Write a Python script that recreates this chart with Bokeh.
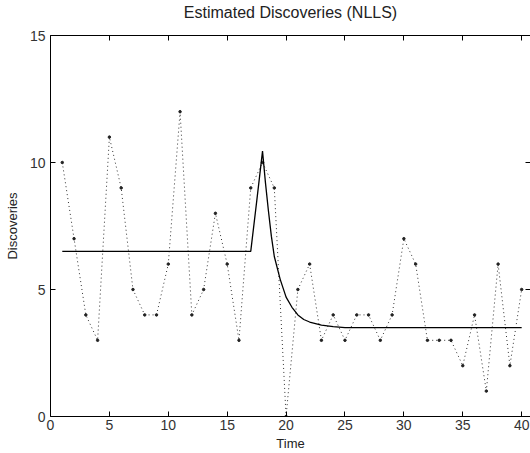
from bokeh.plotting import figure
from bokeh.models import LinearAxis, Range1d, FixedTicker
from bokeh.embed import file_html
from bokeh.resources import INLINE

# Observed discoveries per time step
time = list(range(1, 41))
discoveries = [10, 7, 4, 3, 11, 9, 5, 4, 4, 6,
               12, 4, 5, 8, 6, 3, 9, 10, 9, 0,
               5, 6, 3, 4, 3, 4, 4, 3, 4, 7,
               6, 3, 3, 3, 2, 4, 1, 6, 2, 5]

# Estimated (NLLS) fit
fit_t = [1, 17, 17.5, 18, 18.25, 18.5, 18.75, 19, 19.5, 20, 20.5, 21, 21.5, 22, 23, 24, 25, 40]
fit_y = [6.5, 6.5, 8.45, 10.45, 9.2, 8.1, 7.1, 6.3, 5.4, 4.7, 4.3, 4.0, 3.82, 3.72, 3.6, 3.54, 3.5, 3.5]

x_ticks = [0, 5, 10, 15, 20, 25, 30, 35, 40]
y_ticks = [0, 5, 10, 15]
title_text = "Estimated Discoveries (NLLS)"

FONT = "Liberation Sans"

p = figure(width=530, height=453, output_backend="svg", toolbar_location=None,
           x_range=Range1d(0, 40.75), y_range=Range1d(0, 15),
           min_border_left=50, min_border_right=0, min_border_top=34, min_border_bottom=37,
           x_axis_label="Time", y_axis_label="Discoveries")

p.grid.visible = False
p.outline_line_color = None
p.background_fill_color = "white"
p.border_fill_color = "white"

xa = p.xaxis[0]
xa.ticker = FixedTicker(ticks=x_ticks)
xa.major_label_standoff = 3
xa.axis_label_standoff = 3
ya = p.yaxis[0]
ya.ticker = FixedTicker(ticks=y_ticks)
ya.major_label_standoff = 5
ya.axis_label_standoff = 7
for ax in (xa, ya):
    ax.major_tick_in = 5
    ax.major_tick_out = 0
    ax.minor_tick_in = 0
    ax.minor_tick_out = 0
    ax.axis_line_color = "black"
    ax.major_tick_line_color = "black"
    ax.major_label_text_font = FONT
    ax.major_label_text_font_size = "14px"
    ax.major_label_text_color = "#333333"
    ax.axis_label_text_font = FONT
    ax.axis_label_text_font_size = "13px"
    ax.axis_label_text_font_style = "normal"
    ax.axis_label_text_color = "#222222"

# top axis carries the chart title as its label
top = LinearAxis(ticker=FixedTicker(ticks=x_ticks),
                 major_label_overrides={t: "" for t in x_ticks},
                 major_tick_in=5, major_tick_out=0, minor_tick_in=0, minor_tick_out=0,
                 axis_line_color="black", major_tick_line_color="black",
                 major_label_standoff=0,
                 axis_label=title_text, axis_label_standoff=15,
                 axis_label_text_font=FONT, axis_label_text_font_size="16px",
                 axis_label_text_font_style="normal", axis_label_text_color="#222222")
p.add_layout(top, "above")

right = LinearAxis(ticker=FixedTicker(ticks=y_ticks),
                   major_label_overrides={t: "" for t in y_ticks},
                   major_tick_in=5, major_tick_out=0, minor_tick_in=0, minor_tick_out=0,
                   axis_line_color="black", major_tick_line_color="black",
                   major_label_standoff=0)
p.add_layout(right, "right")

# dotted observed series with small dot markers
p.line(time, discoveries, line_color="#333333", line_width=1.0, line_dash="1 3")
p.scatter(time, discoveries, size=2.5, color="#222222")

# fitted solid line
p.line(fit_t, fit_y, line_color="black", line_width=1.3)

open("out.html", "w").write(file_html(p, INLINE))
